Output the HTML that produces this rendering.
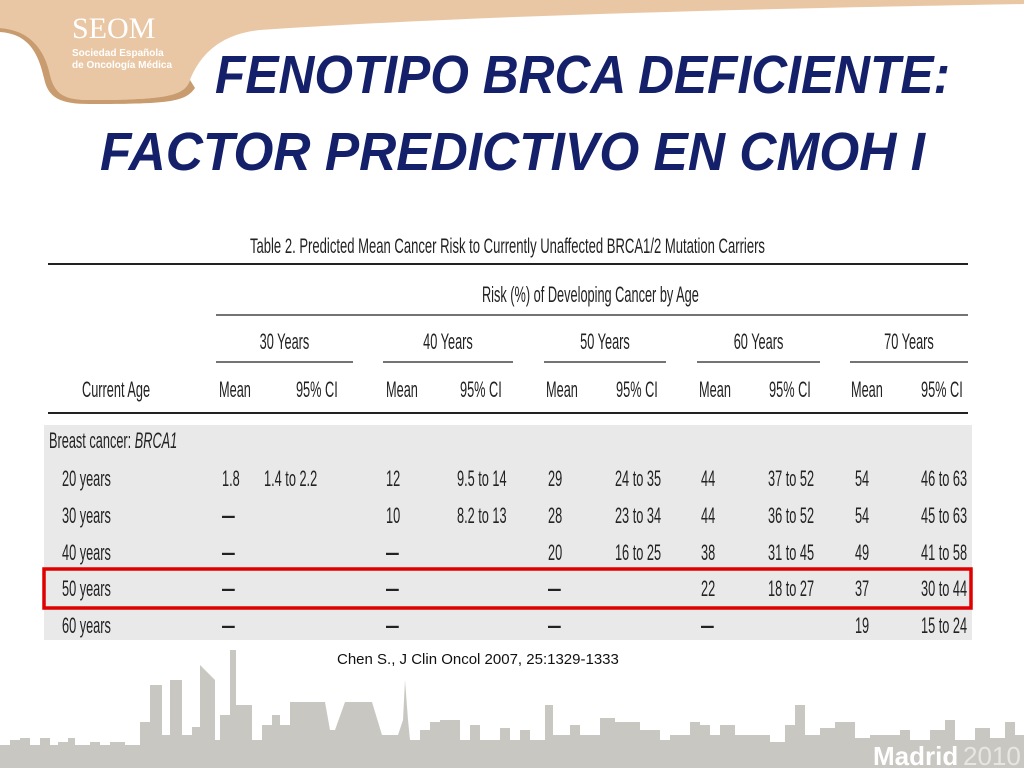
<!DOCTYPE html>
<html><head><meta charset="utf-8"><style>
html,body{margin:0;padding:0;background:#fff;width:1024px;height:768px;overflow:hidden}
svg{display:block}
</style></head><body>
<svg id="s" width="1024" height="768" viewBox="0 0 1024 768" xmlns="http://www.w3.org/2000/svg">
<path d="M0,0 L1024,0 L1024,4 C800,8 500,14 260,30 C220,34 200,55 190,80 C185,95 170,100 90,100 C65,100 55,95 50,75 C45,50 30,30 0,28 Z" fill="#e9c7a4"/>
<path d="M0,28 C30,30 45,50 50,75 C55,95 65,100 90,100 C170,100 185,95 190,80 L195,88 C185,102 170,104 90,104 C60,104 48,98 44,78 C38,52 28,34 0,32 Z" fill="#c99c6f"/>
<text x="72" y="38" font-family="Liberation Serif, serif" font-size="30" fill="#fff">SEOM</text>
<text x="72" y="56" font-family="Liberation Sans, sans-serif" font-size="10" font-weight="bold" fill="#fff">Sociedad Española</text>
<text x="72" y="68" font-family="Liberation Sans, sans-serif" font-size="10" font-weight="bold" fill="#fff">de Oncología Médica</text>
<text x="215" y="93" font-family="Liberation Sans, sans-serif" font-size="54" font-weight="bold" font-style="italic" fill="#14216a" textLength="735" lengthAdjust="spacingAndGlyphs">FENOTIPO BRCA DEFICIENTE:</text>
<text x="100" y="170" font-family="Liberation Sans, sans-serif" font-size="54" font-weight="bold" font-style="italic" fill="#14216a" textLength="825" lengthAdjust="spacingAndGlyphs">FACTOR PREDICTIVO EN CMOH I</text>
<path fill="#c9c7c1" d="M0,768 L0,745 L10,745 L10,740 L20,740 L20,738 L30,738 L30,745 L40,745 L40,738 L50,738 L50,745 L58,745 L58,742 L68,742 L68,738 L75,738 L75,745 L90,745 L90,742 L100,742 L100,745 L110,745 L110,742 L125,742 L125,745 L140,745 L140,722 L150,722 L150,685 L162,685 L162,735 L170,735 L170,680 L182,680 L182,735 L192,735 L192,727 L200,727 L200,665 L215,680 L215,740 L220,740 L220,715 L230,715 L230,650 L236,650 L236,705 L252,705 L252,740 L262,740 L262,725 L272,725 L272,715 L280,715 L280,725 L290,725 L290,702 L325,702 L330,730 L335,730 L345,702 L372,702 L382,735 L398,735 L403,720 L405,680 L408,720 L410,740 L420,740 L420,730 L430,730 L430,722 L440,722 L440,720 L460,720 L460,740 L470,740 L470,725 L480,725 L480,740 L500,740 L500,728 L510,728 L510,740 L520,740 L520,730 L530,730 L530,740 L545,740 L545,705 L553,705 L553,735 L570,735 L570,725 L580,725 L580,735 L600,735 L600,718 L615,718 L615,722 L640,722 L640,730 L660,730 L660,740 L670,740 L670,735 L690,735 L690,722 L700,722 L700,725 L710,725 L710,735 L720,735 L720,725 L735,725 L735,735 L750,735 L750,735 L770,735 L770,742 L785,742 L785,725 L795,725 L795,705 L805,705 L805,735 L820,735 L820,728 L835,728 L835,722 L855,722 L855,738 L870,738 L870,735 L900,735 L900,730 L910,730 L910,740 L930,740 L930,730 L945,730 L945,720 L955,720 L955,740 L975,740 L975,728 L990,728 L990,738 L1005,738 L1005,722 L1015,722 L1015,735 L1024,735 L1024,768 Z"/>
<text x="873" y="765" font-family="Liberation Sans, sans-serif" font-size="26" font-weight="bold" fill="#fff">Madrid</text>
<text x="963" y="765" font-family="Liberation Sans, sans-serif" font-size="26" fill="#e8e6e0">2010</text>
<rect x="44" y="425" width="928" height="215" fill="#e9e9ea"/>
<line x1="48" y1="264" x2="968" y2="264" stroke="#222" stroke-width="2"/>
<line x1="216" y1="315" x2="968" y2="315" stroke="#222" stroke-width="1.3"/>
<line x1="48" y1="413" x2="968" y2="413" stroke="#222" stroke-width="2"/>
<g id="rules"></g>
<g id="tt" font-family="Liberation Sans, sans-serif" font-size="22" fill="#222"></g>
<text x="337" y="664" font-family="Liberation Sans, sans-serif" font-size="15" fill="#111">Chen S., J Clin Oncol 2007, 25:1329-1333</text>
<rect x="44" y="569" width="927" height="39" fill="none" stroke="#e00000" stroke-width="3.5"/>
</svg>
<script>
const ageGroups=["30 Years","40 Years","50 Years","60 Years","70 Years"];
const rowLabels=["20 years","30 years","40 years","50 years","60 years"];
const means=[["1.8","12","29","44","54"],["—","10","28","44","54"],["—","—","20","38","49"],["—","—","—","22","37"],["—","—","—","—","19"]];
const cis=[["1.4 to 2.2","9.5 to 14","24 to 35","37 to 52","46 to 63"],["","8.2 to 13","23 to 34","36 to 52","45 to 63"],["","","16 to 25","31 to 45","41 to 58"],["","","","18 to 27","30 to 44"],["","","","","15 to 24"]];
const NS="http://www.w3.org/2000/svg";
const SX=0.58;
const tt=document.getElementById('tt');
const rules=document.getElementById('rules');
function txt(x,y,s,name){
 const t=document.createElementNS(NS,'text');
 t.setAttribute('x',(x/SX).toFixed(1));t.setAttribute('y',y);
 t.setAttribute('transform','scale('+SX+' 1)');
 t.textContent=s;
 
 
 tt.appendChild(t);return t;
}
const grpL=[216,383,544,697,850], grpR=[353,513,666,820,968];
const meanX=[219,386,546,699,851], ciX=[296,460,616,769,921];
const dMeanX=[222,386,548,701,855], dCiX=[264,457,615,768,921];
const rowY=[486,523,560,596,633];
const cap=txt(250,253,"Table 2. Predicted Mean Cancer Risk to Currently Unaffected BRCA1/2 Mutation Carriers","table-caption");
cap.setAttribute('font-size','21');
cap.setAttribute('textLength',(515/SX).toFixed(1));
cap.setAttribute('lengthAdjust','spacingAndGlyphs');
txt(482,302,"Risk (%) of Developing Cancer by Age","risk-header");
txt(82,397,"Current Age","current-age-header");
ageGroups.forEach((g,i)=>{
 const c=(grpL[i]+grpR[i])/2;
 const t=txt(c,349,g,"age-group-header");t.setAttribute('text-anchor','middle');
 const l=document.createElementNS(NS,'line');
 l.setAttribute('x1',grpL[i]);l.setAttribute('x2',grpR[i]);l.setAttribute('y1',362);l.setAttribute('y2',362);
 l.setAttribute('stroke','#222');l.setAttribute('stroke-width','1.3');
 
 
 rules.appendChild(l);
 txt(meanX[i],397,"Mean","mean-header");
 txt(ciX[i],397,"95% CI","ci-header");
});
const h=txt(49,448,"Breast cancer: ","section-label");
const it=document.createElementNS(NS,'tspan');it.setAttribute('font-style','italic');it.textContent="BRCA1";h.appendChild(it);
rowLabels.forEach((r,ri)=>{
 txt(62,rowY[ri],r,"row-label");
 means[ri].forEach((m,ci)=>{const t=txt(dMeanX[ci],rowY[ri],m,"mean-value");if(m==="—")t.setAttribute('font-weight','bold');});
 cis[ri].forEach((c,ci)=>{if(c)txt(dCiX[ci],rowY[ri],c,"ci-value");});
});
</script>
</body></html>
